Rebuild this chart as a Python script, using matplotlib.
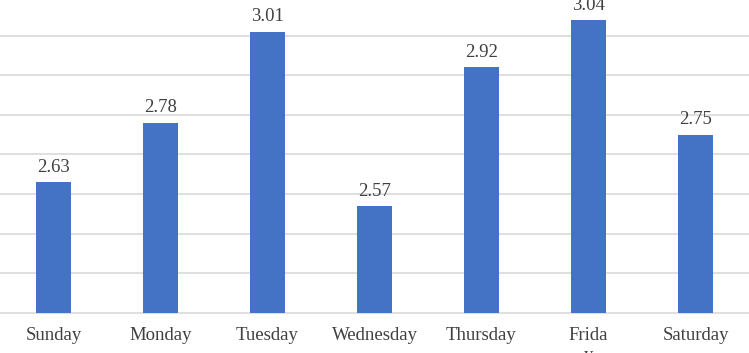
import matplotlib.pyplot as plt

days = ["Sunday", "Monday", "Tuesday", "Wednesday", "Thursday", "Frida\ny", "Saturday"]
values = [2.63, 2.78, 3.01, 2.57, 2.92, 3.04, 2.75]
grid_values = [2.4, 2.5, 2.6, 2.7, 2.8, 2.9, 3.0]

plt.rcParams["font.family"] = ["Liberation Serif", "DejaVu Serif"]

fig = plt.figure(figsize=(7.49, 3.53), dpi=100)
ax = fig.add_axes([0, 0.1142, 1, 0.8858])

x = range(len(days))
bars = ax.bar(x, values, width=0.32, color="#4472C4", zorder=3)

# value labels above each bar
for rect, v in zip(bars, values):
    ax.annotate(
        f"{v:.2f}",
        (rect.get_x() + rect.get_width() / 2, v),
        xytext=(0, 4.5),
        textcoords="offset points",
        ha="center",
        va="bottom",
        fontsize=13.5,
        color="#404040",
    )

ax.set_xlim(-0.5, 6.5)
ax.set_ylim(2.3, 3.09)
ax.set_yticks(grid_values)
ax.yaxis.grid(True, color="#D9D9D9", linewidth=1.2, zorder=0)
ax.tick_params(axis="y", left=False, labelleft=False)

ax.set_xticks(list(x))
ax.set_xticklabels(days, fontsize=13.5, color="#404040", linespacing=1.2)
ax.tick_params(axis="x", length=0, pad=10.5)

for side in ["top", "right", "left"]:
    ax.spines[side].set_visible(False)
ax.spines["bottom"].set_color("#D9D9D9")
ax.spines["bottom"].set_linewidth(1.2)

plt.savefig("out.png", dpi=100)
plt.close()
